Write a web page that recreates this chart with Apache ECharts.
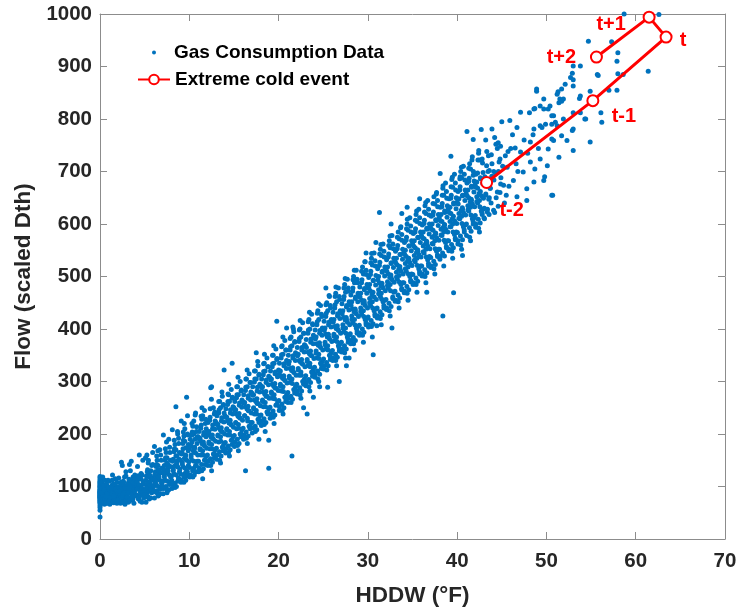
<!DOCTYPE html>
<html>
<head>
<meta charset="utf-8">
<script src="https://cdn.jsdelivr.net/npm/echarts@6/dist/echarts.min.js"></script>
<style>
html,body{margin:0;padding:0;background:#fff;}
#chart{width:740px;height:612px;}
</style>
</head>
<body>
<div id="chart"></div>
<script>
// ---------- data ----------
const xTickValues = [0, 10, 20, 30, 40, 50, 60, 70];
const yTickValues = [0, 100, 200, 300, 400, 500, 600, 700, 800, 900, 1000];

// Gas consumption points [HDDW, Flow]
const gasLow = [
[0,42],[0,55],[0,60],[0,64],[0,68],[0,70],[0,72],[0,74],[0,75],[0,77],[0,78],[0,79],[0,80],[0,81],[0,82],[0,83],[0,84],[0,85],[0,86],[0,87],[0,88],[0,89],[0,90],[0,91],[0,92],[0,94],[0,95],[0,97],[0,99],[0,100],[0,102],[0,104],[0,106],[0,108],[0,110],[0,113],[0,116],[0,119],
[0.05,66],[0.05,76],[0.05,98],[0.05,105],[0.1,88],[0.1,115],[0.1,71],
[0.2,78],[0.3,95],[0.4,70],[0.5,88],[0.6,104],[0.7,82],[0.8,73],[0.9,112],[0.3,118],[0.5,66],[0.6,92],[0.7,99],[0.8,86],[0.9,76],[0.2,108],[0.4,84],[0.6,71],[0.8,96],[0.1,101],[0.9,90],
[0.15,92],[0.25,74],[0.35,101],[0.45,80],[0.55,112],[0.65,87],[0.75,95],[0.85,68],[0.95,83],
[1.1,80],[1.2,95],[1.3,70],[1.4,104],[1.5,88],[1.6,76],[1.7,115],[1.8,92],[1.9,68],[1.2,84],[1.4,122],[1.5,74],[1.6,99],[1.8,82],[1.9,108],[1.1,66],[1.3,90],[1.7,78],[1.5,96],[1.0,110],
[1.05,98],[1.15,74],[1.25,89],[1.35,112],[1.45,80],[1.55,69],[1.65,93],[1.75,86],[1.85,100],[1.95,77],
[2.1,72],[2.2,98],[2.3,85],[2.4,146],[2.5,78],[2.6,110],[2.7,92],[2.8,66],[2.9,120],[2.2,88],[2.4,104],[2.5,140],[2.6,75],[2.8,95],[2.9,82],[2.1,116],[2.3,68],[2.7,101],[2.5,90],[2.9,128],
[2.05,92],[2.15,82],[2.35,108],[2.45,70],[2.55,96],[2.65,84],[2.75,118],[2.85,76],[2.95,90],
[3.1,80],[3.2,108],[3.3,72],[3.4,95],[3.5,148],[3.6,86],[3.7,118],[3.8,68],[3.9,100],[3.2,90],[3.4,130],[3.5,77],[3.6,104],[3.8,88],[3.9,122],[3.1,96],[3.3,142],[3.7,82],[3.5,112],[3.0,74],
[3.05,86],[3.15,70],[3.25,114],[3.45,92],[3.55,101],[3.65,75],[3.75,96],[3.85,110],[3.95,84],
[4.1,84],[4.2,112],[4.3,76],[4.4,160],[4.5,98],[4.6,125],[4.7,70],[4.8,105],[4.9,90],[4.2,138],[4.4,82],[4.5,116],[4.6,94],[4.8,150],[4.9,78],[4.1,102],[4.3,120],[4.7,88],[4.5,72],[4.0,108],
[5.1,86],[5.2,120],[5.3,98],[5.4,145],[5.5,76],[5.6,110],[5.7,130],[5.8,92],[5.9,165],[5.2,104],[5.4,80],[5.5,125],[5.6,95],[5.8,140],[5.9,112],[5.1,155],[5.3,88],[5.7,100],[5.5,118],[5.0,94],
[6.1,90],[6.2,128],[6.3,104],[6.4,150],[6.5,82],[6.6,118],[6.7,170],[6.8,98],[6.9,135],[6.2,110],[6.4,92],[6.5,140],[6.6,124],[6.8,160],[6.9,106],[6.1,176],[6.3,115],[6.7,86],[6.5,132],[6.0,100],
[7.1,96],[7.2,140],[7.3,112],[7.4,165],[7.5,88],[7.6,130],[7.7,190],[7.8,108],[7.9,150],[7.2,122],[7.4,100],[7.5,155],[7.6,136],[7.8,175],[7.9,118],[7.1,198],[7.3,128],[7.7,94],[7.5,145],[7.0,110],
[8.1,104],[8.2,152],[8.3,124],[8.4,180],[8.5,252],[8.6,140],[8.7,200],[8.8,115],[8.9,165],[8.2,132],[8.4,98],[8.5,170],[8.6,148],[8.8,192],[8.9,128],[8.1,208],[8.3,138],[8.7,110],[8.5,158],[8.0,120],
[9.1,112],[9.2,165],[9.3,138],[9.4,196],[9.5,125],[9.6,152],[9.7,270],[9.8,120],[9.9,180],[9.2,146],[9.4,108],[9.5,210],[9.6,160],[9.8,200],[9.9,140],[9.1,225],[9.3,172],[9.7,130],[9.5,186],[9.0,150],[9.8,235]
];

const gasMid = [
[10.1,122],[10.2,178],[10.3,150],[10.4,215],[10.5,135],[10.6,165],[10.7,240],[10.8,128],[10.9,195],[10.2,160],[10.4,118],[10.5,225],[10.6,175],[10.8,205],[10.9,148],[10.1,190],[10.3,185],[10.7,140],[10.5,200],[10.0,172],
[11.1,135],[11.2,192],[11.3,160],[11.4,228],[11.5,115],[11.6,180],[11.7,245],[11.8,142],[11.9,210],[11.2,172],[11.4,130],[11.5,235],[11.6,198],[11.8,220],[11.9,158],[11.1,205],[11.3,186],[11.7,150],[11.5,168],[11.0,195],
[12.1,148],[12.2,205],[12.3,172],[12.4,288],[12.5,130],[12.6,192],[12.7,250],[12.8,155],[12.9,225],[12.2,185],[12.4,140],[12.5,290],[12.6,210],[12.8,238],[12.9,170],[12.1,222],[12.3,198],[12.7,162],[12.5,180],[12.0,200],
[13.1,160],[13.2,218],[13.3,185],[13.4,262],[13.5,145],[13.6,205],[13.7,272],[13.8,168],[13.9,240],[13.2,198],[13.4,150],[13.5,250],[13.6,225],[13.8,255],[13.9,182],[13.1,235],[13.3,212],[13.7,175],[13.5,195],[13.0,222],[13.9,322],
[14.1,172],[14.2,232],[14.3,198],[14.4,275],[14.5,158],[14.6,220],[14.7,285],[14.8,180],[14.9,252],[14.2,210],[14.4,165],[14.5,262],[14.6,240],[14.8,268],[14.9,195],[14.1,248],[14.3,225],[14.7,188],[14.5,205],[14.0,235],[14.8,335],
[15.1,185],[15.2,246],[15.3,210],[15.4,290],[15.5,168],[15.6,232],[15.7,300],[15.8,195],[15.9,265],[15.2,222],[15.4,178],[15.5,275],[15.6,255],[15.8,282],[15.9,208],[15.1,262],[15.3,238],[15.7,200],[15.5,218],[15.0,250],
[16.1,198],[16.2,260],[16.3,130],[16.4,305],[16.5,182],[16.6,245],[16.7,315],[16.8,210],[16.9,280],[16.2,235],[16.4,192],[16.5,290],[16.6,268],[16.8,298],[16.9,222],[16.1,275],[16.3,252],[16.7,215],[16.5,230],[16.0,262],
[17.1,212],[17.2,275],[17.3,238],[17.4,320],[17.5,355],[17.6,258],[17.7,330],[17.8,222],[17.9,295],[17.2,250],[17.4,205],[17.5,305],[17.6,282],[17.8,312],[17.9,235],[17.1,290],[17.3,265],[17.7,228],[17.5,245],[17.0,278],[17.8,190],
[18.1,225],[18.2,290],[18.3,252],[18.4,335],[18.5,205],[18.6,272],[18.7,345],[18.8,238],[18.9,135],[18.2,265],[18.4,218],[18.5,320],[18.6,298],[18.8,328],[18.9,248],[18.1,305],[18.3,280],[18.7,242],[18.5,260],[18.0,292],[18.9,310],
[19.1,238],[19.2,305],[19.3,268],[19.4,350],[19.5,220],[19.6,288],[19.7,362],[19.8,415],[19.9,312],[19.2,280],[19.4,232],[19.5,335],[19.6,315],[19.8,342],[19.9,262],[19.1,320],[19.3,295],[19.7,255],[19.5,275],[19.0,308],[18.9,188],
[20.1,252],[20.2,320],[20.3,282],[20.4,368],[20.5,238],[20.6,305],[20.7,378],[20.8,262],[20.9,340],[20.2,295],[20.4,245],[20.5,352],[20.6,330],[20.8,360],[20.9,275],[20.1,335],[20.3,310],[20.7,270],[20.5,290],[20.0,322],[20.9,402],
[21.1,268],[21.2,338],[21.3,298],[21.4,385],[21.5,158],[21.6,320],[21.7,395],[21.8,278],[21.9,355],[21.2,310],[21.4,260],[21.5,368],[21.6,345],[21.8,375],[21.9,290],[21.1,350],[21.3,325],[21.7,285],[21.5,305],[21.0,338],[21.6,404],
[22.1,282],[22.2,352],[22.3,312],[22.4,400],[22.5,268],[22.6,335],[22.7,412],[22.8,295],[22.9,370],[22.2,325],[22.4,275],[22.5,385],[22.6,360],[22.8,392],[22.9,305],[22.1,365],[22.3,340],[22.7,300],[22.5,318],[22.0,352],[22.8,250],
[23.1,298],[23.2,238],[23.3,330],[23.4,418],[23.5,282],[23.6,350],[23.7,428],[23.8,310],[23.9,388],[23.2,342],[23.4,290],[23.5,400],[23.6,375],[23.8,410],[23.9,322],[23.1,380],[23.3,356],[23.7,318],[23.5,335],[23.0,368],[23.9,270],
[24.1,315],[24.2,385],[24.3,345],[24.4,435],[24.5,300],[24.6,368],[24.7,445],[24.8,325],[24.9,402],[24.2,358],[24.4,305],[24.5,418],[24.6,392],[24.8,428],[24.9,338],[24.1,398],[24.3,372],[24.7,335],[24.5,352],[24.0,385],[24.6,290]
];

const gasHigh = [
[25.1,330],[25.2,402],[25.3,362],[25.4,450],[25.5,289],[25.6,385],[25.7,462],[25.8,342],[25.9,418],[25.2,375],[25.4,322],[25.5,435],[25.6,408],[25.8,445],[25.9,355],[25.1,415],[25.3,390],[25.7,350],[25.5,368],[25.0,400],[25.3,478],
[26.1,345],[26.2,418],[26.3,378],[26.4,468],[26.5,330],[26.6,400],[26.7,478],[26.8,358],[26.9,435],[26.2,390],[26.4,340],[26.5,452],[26.6,425],[26.8,462],[26.9,372],[26.1,432],[26.3,405],[26.7,368],[26.5,385],[26.0,415],[26.8,300],
[27.1,362],[27.2,435],[27.3,395],[27.4,485],[27.5,345],[27.6,418],[27.7,495],[27.8,375],[27.9,452],[27.2,408],[27.4,355],[27.5,470],[27.6,442],[27.8,478],[27.9,388],[27.1,448],[27.3,422],[27.7,385],[27.5,402],[27.0,432],[27.6,330],
[28.1,378],[28.2,452],[28.3,412],[28.4,500],[28.5,360],[28.6,435],[28.7,512],[28.8,392],[28.9,468],[28.2,425],[28.4,372],[28.5,488],[28.6,458],[28.8,495],[28.9,405],[28.1,465],[28.3,438],[28.7,402],[28.5,418],[28.0,450],[27.9,345],
[29.1,392],[29.2,468],[29.3,428],[29.4,518],[29.5,375],[29.6,450],[29.7,528],[29.8,408],[29.9,485],[29.2,440],[29.4,388],[29.5,505],[29.6,475],[29.8,512],[29.9,420],[29.1,480],[29.3,455],[29.7,418],[29.5,435],[29.0,465],[29.8,545],
[30.1,408],[30.2,485],[30.3,445],[30.4,535],[30.5,385],[30.6,351],[30.7,545],[30.8,425],[30.9,502],[30.2,458],[30.4,405],[30.5,522],[30.6,492],[30.8,530],[30.9,438],[30.1,498],[30.3,472],[30.7,435],[30.5,452],[30.0,482],[30.9,565],
[31.1,425],[31.2,500],[31.3,622],[31.4,552],[31.5,408],[31.6,482],[31.7,562],[31.8,440],[31.9,518],[31.2,475],[31.4,420],[31.5,540],[31.6,508],[31.8,548],[31.9,455],[31.1,515],[31.3,488],[31.7,452],[31.5,468],[31.0,406],[31.4,462],
[32.1,440],[32.2,518],[32.3,478],[32.4,568],[32.5,425],[32.6,498],[32.7,402],[32.8,458],[32.9,535],[32.2,490],[32.4,435],[32.5,555],[32.6,525],[32.8,562],[32.9,470],[32.1,532],[32.3,505],[32.7,578],[32.5,485],[32.0,515],[32.6,600],
[33.1,455],[33.2,535],[33.3,495],[33.4,585],[33.5,440],[33.6,515],[33.7,595],[33.8,475],[33.9,552],[33.2,508],[33.4,452],[33.5,572],[33.6,542],[33.8,580],[33.9,488],[33.1,548],[33.3,522],[33.7,485],[33.5,502],[33.0,530],[33.8,620],
[34.1,472],[34.2,550],[34.3,510],[34.4,600],[34.5,455],[34.6,532],[34.7,612],[34.8,490],[34.9,568],[34.2,525],[34.4,468],[34.5,588],[34.6,558],[34.8,596],[34.9,505],[34.1,565],[34.3,538],[34.7,500],[34.5,518],[34.0,545],[34.4,632],
[35.1,488],[35.2,568],[35.3,528],[35.4,618],[35.5,470],[35.6,548],[35.7,628],[35.8,505],[35.9,585],[35.2,540],[35.4,485],[35.5,605],[35.6,575],[35.8,612],[35.9,520],[35.1,582],[35.3,555],[35.7,515],[35.5,535],[35.0,562],[35.8,648],
[36.1,505],[36.2,585],[36.3,545],[36.4,635],[36.5,488],[36.6,565],[36.7,645],[36.8,520],[36.9,600],[36.2,558],[36.4,500],[36.5,620],[36.6,592],[36.8,628],[36.9,538],[36.1,598],[36.3,572],[36.7,532],[36.5,552],[36.0,578],[36.6,470],
[37.1,520],[37.2,600],[37.3,562],[37.4,652],[37.5,505],[37.6,582],[37.7,660],[37.8,538],[37.9,618],[37.2,575],[37.4,515],[37.5,638],[37.6,608],[37.8,645],[37.9,552],[37.1,615],[37.3,588],[37.7,548],[37.5,568],[37.0,595],
[38.1,538],[38.2,618],[38.3,578],[38.4,425],[38.5,520],[38.6,598],[38.7,678],[38.8,555],[38.9,635],[38.2,590],[38.4,668],[38.5,655],[38.6,625],[38.8,662],[38.9,568],[38.1,632],[38.3,605],[38.7,565],[38.5,585],[38.0,612],[38.1,696],
[39.1,552],[39.2,632],[39.3,595],[39.4,685],[39.5,535],[39.6,469],[39.7,695],[39.8,570],[39.9,650],[39.2,605],[39.4,548],[39.5,670],[39.6,640],[39.8,678],[39.9,585],[39.1,648],[39.3,620],[39.7,580],[39.5,600],[39.0,628],[39.3,729]
];

const gasTop = [
[40.1,568],[40.2,648],[40.3,610],[40.4,700],[40.5,552],[40.6,628],[40.7,710],[40.8,585],[40.9,665],[40.2,620],[40.4,560],[40.5,688],[40.6,655],[40.8,695],[40.9,598],[40.1,662],[40.3,686],[40.7,595],[40.5,615],[40.0,642],[40.6,540],
[41.1,776],[41.2,665],[41.3,625],[41.4,715],[41.5,568],[41.6,645],[41.7,728],[41.8,761],[41.9,682],[41.2,635],[41.4,575],[41.5,705],[41.6,672],[41.8,600],[41.9,612],[41.1,678],[41.3,650],[41.7,610],[41.5,632],[41.0,658],[41.8,693],
[42.1,600],[42.2,680],[42.3,640],[42.4,735],[42.5,585],[42.6,662],[42.7,780],[42.8,618],[42.9,698],[42.2,652],[42.4,592],[42.5,722],[42.6,688],[42.8,724],[42.9,628],[42.1,695],[42.3,668],[42.7,625],[42.5,645],[42.0,675],
[43.1,690],[43.2,655],[43.4,628],[43.6,702],[43.7,668],[43.8,640],[43.9,715],[43.3,711],[43.5,730],[43.9,781],[43.2,760],[43.6,650],[43.0,612],
[44.1,700],[44.2,765],[44.3,696],[44.5,661],[44.5,744],[44.7,718],[44.8,724],[44.9,688],[44.2,622],[44.6,755],[44.8,660],
[45.0,795],[45.1,710],[45.2,674],[45.4,730],[45.5,655],[45.6,708],[45.7,738],[45.9,797],[45.3,640],[45.8,672],
[46.0,744],[46.3,683],[46.5,745],[46.7,784],[46.7,652],[46.8,700],[46.2,770],[46.6,715],
[47.1,813],[47.1,737],[47.4,699],[47.5,760],[47.8,667],[47.8,645],[47.9,735],
[48.1,812],[48.2,718],[48.2,756],[48.5,770],[48.6,781],[48.6,680],[48.6,819],[48.7,820],[48.7,705],[48.9,853],[48.9,857],
[49.1,744],[49.3,787],[49.3,724],[49.3,825],[49.5,784],[49.7,819],[49.7,683],[49.7,838],[49.8,690],[49.9,790],
[50.1,711],[50.2,819],[50.2,743],[50.4,825],[50.6,790],[50.6,762],[50.6,806],[50.6,655],[50.7,655],[50.8,759],[50.8,806],
[51.0,794],[51.2,847],[51.2,787],[51.3,852],[51.4,831],[51.4,727],[51.5,838],[51.7,768],[51.7,834],[51.7,857],[51.9,838],[51.9,800],
[52.1,866],[52.3,759],[52.7,879],[52.9,887],[52.9,778],[53.0,875],[53.0,740],[53.0,901],[53.0,863],[53.0,812],[53.0,781],
[53.7,839],[53.8,812],[53.8,901],[53.8,844],[54.3,800],[54.4,800],[54.7,948],[54.9,853],[54.9,756],
[55.7,885],[55.8,883],[56.1,812],[56.2,794],[57.0,855],[57.3,947],[57.9,855],[57.9,910],[58.0,926],[58.0,886],[58.6,885],[58.7,1000],[61.4,891],[62.6,999]
];

// dense core of the cloud
const gasCore = [
[0.12,70],[0.22,96],[0.33,83],[0.41,101],[0.52,77],[0.58,90],[0.66,68],[0.74,104],[0.83,86],[0.91,79],[0.18,88],[0.47,94],[0.69,81],[0.96,99],
[1.03,72],[1.14,93],[1.22,80],[1.31,101],[1.39,86],[1.48,71],[1.57,105],[1.63,84],[1.72,95],[1.81,74],[1.88,88],[1.27,97],[1.53,82],[1.94,91],
[2.04,75],[2.13,99],[2.21,86],[2.32,104],[2.38,79],[2.47,93],[2.56,70],[2.64,108],[2.72,88],[2.81,97],[2.89,73],[2.18,91],[2.52,84],[2.97,102],
[3.02,80],[3.12,104],[3.19,88],[3.28,73],[3.37,99],[3.44,112],[3.53,85],[3.61,94],[3.69,76],[3.78,107],[3.86,90],[3.23,96],[3.58,81],[3.93,114],
[4.03,82],[4.11,108],[4.19,95],[4.27,120],[4.36,78],[4.44,101],[4.52,89],[4.61,114],[4.68,97],[4.77,84],[4.86,109],[4.94,92],[4.33,104],[4.72,122],
[5.04,85],[5.13,112],[5.21,98],[5.29,128],[5.37,80],[5.46,106],[5.54,92],[5.62,120],[5.71,103],[5.79,88],[5.87,116],[5.95,100],[5.33,132],[5.66,95],
[6.03,92],[6.12,122],[6.2,106],[6.28,138],[6.37,88],[6.45,115],[6.53,100],[6.62,130],[6.7,112],[6.78,95],[6.87,126],[6.95,108],[6.33,142],[6.58,118],
[7.04,100],[7.13,133],[7.21,118],[7.29,150],[7.38,96],[7.46,126],[7.54,110],[7.63,142],[7.71,123],[7.79,104],[7.88,138],[7.96,120],[7.34,155],[7.59,129],
[8.03,112],[8.12,148],[8.2,130],[8.29,166],[8.37,106],[8.45,140],[8.54,122],[8.62,158],[8.71,137],[8.79,116],[8.87,152],[8.95,133],[8.33,172],[8.58,144],
[9.04,124],[9.12,162],[9.21,143],[9.29,182],[9.38,118],[9.46,154],[9.54,135],[9.63,174],[9.71,150],[9.79,128],[9.88,168],[9.96,147],[9.34,188],[9.58,158],
[10.03,136],[10.12,176],[10.2,156],[10.29,198],[10.37,130],[10.45,168],[10.54,148],[10.62,190],[10.71,164],[10.79,140],[10.87,182],[10.95,160],[10.33,204],[10.58,172],
[11.04,148],[11.12,190],[11.21,170],[11.29,211],[11.38,142],[11.46,181],[11.54,160],[11.63,203],[11.71,177],[11.79,152],[11.88,195],[11.96,173],[11.34,217],[11.58,185],
[12.03,160],[12.12,204],[12.2,182],[12.29,226],[12.37,153],[12.45,194],[12.54,172],[12.62,217],[12.71,190],[12.79,163],[12.87,209],[12.95,186],[12.33,232],[12.58,198],
[13.04,173],[13.12,218],[13.21,196],[13.29,240],[13.38,166],[13.46,208],[13.54,186],[13.63,231],[13.71,204],[13.79,177],[13.88,223],[13.96,200],[13.34,246],[13.58,212],
[14.03,184],[14.12,232],[14.2,208],[14.29,256],[14.37,177],[14.45,221],[14.54,198],[14.62,246],[14.71,217],[14.79,188],[14.87,238],[14.95,213],[14.33,262],[14.58,226],
[15.04,197],[15.12,245],[15.21,221],[15.29,269],[15.38,190],[15.46,234],[15.54,211],[15.63,259],[15.71,230],[15.79,201],[15.88,251],[15.96,226],[15.34,275],[15.58,239],
[16.03,211],[16.12,259],[16.2,235],[16.29,283],[16.37,204],[16.45,248],[16.54,225],[16.62,273],[16.71,244],[16.79,215],[16.87,265],[16.95,240],[16.33,289],[16.58,253],
[17.04,222],[17.12,274],[17.21,248],[17.29,299],[17.38,215],[17.46,262],[17.54,238],[17.63,289],[17.71,258],[17.79,227],[17.88,280],[17.96,254],[17.34,305],[17.58,267],
[18.03,236],[18.12,288],[18.2,262],[18.29,313],[18.37,229],[18.45,276],[18.54,252],[18.62,303],[18.71,272],[18.79,241],[18.87,294],[18.95,268],[18.33,319],[18.58,281],
[19.04,251],[19.12,303],[19.21,277],[19.29,328],[19.38,244],[19.46,291],[19.54,267],[19.63,318],[19.71,287],[19.79,256],[19.88,309],[19.96,283],[19.34,334],[19.58,296],
[20.03,264],[20.12,318],[20.2,291],[20.29,345],[20.37,257],[20.45,306],[20.54,281],[20.62,334],[20.71,302],[20.79,269],[20.87,325],[20.95,297],[20.33,351],[20.58,311],
[21.04,279],[21.12,333],[21.21,306],[21.29,360],[21.38,272],[21.46,321],[21.54,296],[21.63,349],[21.71,317],[21.79,284],[21.88,340],[21.96,312],[21.34,366],[21.58,326],
[22.03,295],[22.12,349],[22.2,322],[22.29,376],[22.37,288],[22.45,337],[22.54,312],[22.62,365],[22.71,333],[22.79,300],[22.87,356],[22.95,328],[22.33,382],[22.58,342],
[23.04,311],[23.12,365],[23.21,338],[23.29,392],[23.38,304],[23.46,353],[23.54,328],[23.63,381],[23.71,349],[23.79,316],[23.88,372],[23.96,344],[23.34,398],[23.58,358],
[24.03,327],[24.12,381],[24.2,354],[24.29,408],[24.37,320],[24.45,369],[24.54,344],[24.62,397],[24.71,365],[24.79,332],[24.87,388],[24.95,360],[24.33,414],[24.58,374],
[25.04,343],[25.12,397],[25.21,370],[25.29,424],[25.38,336],[25.46,385],[25.54,360],[25.63,413],[25.71,381],[25.79,348],[25.88,404],[25.96,376],[25.34,430],[25.58,390],
[26.03,359],[26.12,413],[26.2,386],[26.29,440],[26.37,352],[26.45,401],[26.54,376],[26.62,429],[26.71,397],[26.79,364],[26.87,420],[26.95,392],[26.33,446],[26.58,406],
[27.04,375],[27.12,429],[27.21,402],[27.29,456],[27.38,368],[27.46,417],[27.54,392],[27.63,445],[27.71,413],[27.79,380],[27.88,436],[27.96,408],[27.34,462],[27.58,422],
[28.03,391],[28.12,445],[28.2,418],[28.29,472],[28.37,384],[28.45,433],[28.54,408],[28.62,461],[28.71,429],[28.79,396],[28.87,452],[28.95,424],[28.33,478],[28.58,438],
[29.04,407],[29.12,461],[29.21,434],[29.29,488],[29.38,400],[29.46,449],[29.54,424],[29.63,477],[29.71,445],[29.79,412],[29.88,468],[29.96,440],[29.34,494],[29.58,454],
[30.03,423],[30.12,477],[30.2,450],[30.29,504],[30.37,416],[30.45,465],[30.54,440],[30.62,493],[30.71,461],[30.79,428],[30.87,484],[30.95,456],[30.33,510],[30.58,470],
[31.04,440],[31.12,494],[31.21,467],[31.29,521],[31.38,433],[31.46,482],[31.54,457],[31.63,510],[31.71,478],[31.79,445],[31.88,501],[31.96,473],[31.34,527],[31.58,487],
[32.03,456],[32.12,510],[32.2,483],[32.29,537],[32.37,449],[32.45,498],[32.54,473],[32.62,526],[32.71,494],[32.79,461],[32.87,517],[32.95,489],[32.33,543],[32.58,503],
[33.04,472],[33.12,526],[33.21,499],[33.29,553],[33.38,465],[33.46,514],[33.54,489],[33.63,542],[33.71,510],[33.79,477],[33.88,533],[33.96,505],[33.34,559],[33.58,519],
[34.03,488],[34.12,542],[34.2,515],[34.29,569],[34.37,481],[34.45,530],[34.54,505],[34.62,558],[34.71,526],[34.79,493],[34.87,549],[34.95,521],[34.33,575],[34.58,535],
[35.04,504],[35.12,558],[35.21,531],[35.29,585],[35.38,497],[35.46,546],[35.54,521],[35.63,574],[35.71,542],[35.79,509],[35.88,565],[35.96,537],[35.34,591],[35.58,551],
[36.03,520],[36.12,574],[36.2,547],[36.29,601],[36.37,513],[36.45,562],[36.54,537],[36.62,590],[36.71,558],[36.79,525],[36.87,581],[36.95,553],[36.33,607],[36.58,567],
[37.04,536],[37.12,590],[37.21,563],[37.29,617],[37.38,529],[37.46,578],[37.54,553],[37.63,606],[37.71,574],[37.79,541],[37.88,597],[37.96,569],[37.34,623],[37.58,583],
[38.03,552],[38.12,606],[38.2,579],[38.29,633],[38.37,545],[38.45,594],[38.54,569],[38.62,622],[38.71,590],[38.79,557],[38.87,613],[38.95,585],[38.33,639],[38.58,599],
[39.04,568],[39.12,622],[39.21,595],[39.29,649],[39.38,561],[39.46,610],[39.54,585],[39.63,638],[39.71,606],[39.79,573],[39.88,629],[39.96,601],[39.34,655],[39.58,615],
[40.03,584],[40.12,638],[40.2,611],[40.29,665],[40.37,577],[40.45,626],[40.54,601],[40.62,654],[40.71,622],[40.79,589],[40.87,645],[40.95,617],[40.33,671],[40.58,631],
[41.04,600],[41.12,654],[41.21,627],[41.29,681],[41.38,593],[41.46,642],[41.54,617],[41.63,670],[41.71,638],[41.79,605],[41.88,661],[41.96,633],[41.34,687],[41.58,647],
[42.03,616],[42.12,670],[42.2,643],[42.29,697],[42.37,609],[42.45,658],[42.54,633],[42.62,686],[42.71,654],[42.79,621],[42.87,677],[42.95,649],
[43.04,630],[43.21,657],[43.38,623],[43.54,647],[43.71,668],[43.88,691],[43.46,700],
[44.12,684],[44.37,650],[44.62,700],[44.87,676]
];

// outer parts of the band
const gasEdge = [
[5.15,70],[5.42,150],[5.68,78],[5.91,142],[5.25,160],
[6.1,78],[6.35,158],[6.6,84],[6.85,150],[6.48,168],
[7.08,86],[7.32,172],[7.57,92],[7.83,165],[7.45,185],
[8.06,96],[8.31,188],[8.56,100],[8.82,182],[8.68,205],
[9.07,108],[9.33,204],[9.6,112],[9.85,198],[9.44,220],
[10.05,118],[10.3,220],[10.56,122],[10.82,214],[10.66,236],
[11.06,128],[11.32,234],[11.58,134],[11.84,228],[11.42,250],
[12.08,140],[12.34,248],[12.6,146],[12.86,242],[12.48,266],
[13.05,152],[13.3,262],[13.56,158],[13.82,256],[13.66,280],
[14.07,164],[14.33,276],[14.58,170],[14.84,270],[14.42,295],
[15.06,176],[15.32,290],[15.58,182],[15.83,284],[15.46,308],
[16.08,190],[16.34,305],[16.6,196],[16.86,298],[16.48,322],
[17.05,202],[17.3,320],[17.56,208],[17.82,314],[17.66,338],
[18.07,216],[18.33,334],[18.58,222],[18.84,328],[18.42,352],
[19.06,230],[19.32,350],[19.58,236],[19.83,344],[19.46,368],
[20.08,245],[20.34,366],[20.6,250],[20.86,360],[20.48,385],
[21.05,260],[21.3,382],[21.56,266],[21.82,376],[21.66,400],
[22.07,276],[22.33,398],[22.58,282],[22.84,392],[22.42,416],
[23.06,292],[23.32,414],[23.58,298],[23.83,408],[23.46,432],
[24.08,308],[24.34,430],[24.6,314],[24.86,424],[24.48,448],
[25.05,324],[25.3,446],[25.56,330],[25.82,440],[25.66,464],
[26.07,340],[26.33,462],[26.58,346],[26.84,456],[26.42,480],
[27.06,356],[27.32,478],[27.58,362],[27.83,472],[27.46,496],
[28.08,372],[28.34,494],[28.6,378],[28.86,488],[28.48,512],
[29.05,388],[29.3,510],[29.56,394],[29.82,504],[29.66,528],
[30.07,404],[30.33,526],[30.58,410],[30.84,520],[30.42,544],
[31.06,421],[31.32,543],[31.58,427],[31.83,537],[31.46,561],
[32.08,437],[32.34,559],[32.6,443],[32.86,553],[32.48,577],
[33.05,453],[33.3,575],[33.56,459],[33.82,569],[33.66,593],
[34.07,469],[34.33,591],[34.58,475],[34.84,585],[34.42,609],
[35.06,485],[35.32,607],[35.58,491],[35.83,601],[35.46,625],
[36.08,501],[36.34,623],[36.6,507],[36.86,617],[36.48,641],
[37.05,517],[37.3,639],[37.56,523],[37.82,633],[37.66,657],
[38.07,533],[38.33,655],[38.58,539],[38.84,649],[38.42,673],
[39.06,549],[39.32,671],[39.58,555],[39.83,665],[39.46,689],
[40.08,562],[40.34,690],[40.6,570],[40.86,684],[40.48,708],
[41.05,578],[41.3,706],[41.56,586],[41.82,700],[41.66,722],
[42.07,594],[42.33,722],[42.58,602],[42.84,716],[42.42,740],
[43.06,610],[43.32,738],[43.58,618],[43.83,732],
[44.08,626],[44.34,752],[44.6,634],[44.86,748]
];

// Extreme cold event sequence
const eventHddw = [43.3, 55.2, 63.4, 61.5, 55.6];
const eventFlow = [679, 835, 956, 994, 918];
const eventLabels = ['t-2', 't-1', 't', 't+1', 't+2'];

// ---------- styling ----------
const labelOffsets = [[25, 28], [31, 16], [17, 3], [-38, 7], [-35, 0]];
const AX = '#262626';
const AXLINE = '#8c8c8c';
const FONT = '"Liberation Sans", Arial, Helvetica, sans-serif';

const gasData = gasLow.concat(gasMid, gasHigh, gasTop, gasCore, gasEdge);
const eventData = eventHddw.map((x, i) => ({
  value: [x, eventFlow[i]],
  label: { show: true, formatter: eventLabels[i], offset: labelOffsets[i], position: 'inside' }
}));

const chart = echarts.init(document.getElementById('chart'), null, { renderer: 'canvas' });

const baseAxis = {
  axisLine: { show: true, onZero: false, lineStyle: { color: AXLINE, width: 1 } },
  axisTick: { show: true, inside: true, length: 7, lineStyle: { color: AXLINE, width: 1 } },
  splitLine: { show: false },
  minorTick: { show: false }
};

const option = {
  animation: false,
  backgroundColor: '#fff',
  textStyle: { fontFamily: FONT },
  grid: { left: 100, right: 15, top: 14, bottom: 69, containLabel: false },
  legend: [
    {
      data: [{ name: 'Gas Consumption Data', icon: 'circle' }],
      left: 152, top: 43,
      itemWidth: 4, itemHeight: 4,
      itemGap: 0, padding: 0,
      textStyle: { fontFamily: FONT, fontWeight: 'bold', fontSize: 19, color: '#000', padding: [0, 0, 0, 13] },
      selectedMode: false
    },
    {
      data: ['Extreme cold event'],
      left: 137, top: 70,
      itemWidth: 32, itemHeight: 12,
      itemGap: 0, padding: 0,
      textStyle: { fontFamily: FONT, fontWeight: 'bold', fontSize: 19, color: '#000' },
      selectedMode: false
    }
  ],
  xAxis: [
    Object.assign({}, baseAxis, {
      type: 'value', position: 'bottom',
      min: xTickValues[0], max: xTickValues[xTickValues.length - 1], interval: xTickValues[1] - xTickValues[0],
      name: 'HDDW (°F)', nameLocation: 'middle', nameGap: 45,
      nameTextStyle: { fontFamily: FONT, fontWeight: 'bold', fontSize: 22.5, color: AX },
      axisLabel: { show: true, margin: 12, fontFamily: FONT, fontWeight: 'bold', fontSize: 20.5, color: AX }
    }),
    Object.assign({}, baseAxis, {
      type: 'value', position: 'top',
      min: xTickValues[0], max: xTickValues[xTickValues.length - 1], interval: xTickValues[1] - xTickValues[0],
      axisLabel: { show: false }
    })
  ],
  yAxis: [
    Object.assign({}, baseAxis, {
      type: 'value', position: 'left',
      min: yTickValues[0], max: yTickValues[yTickValues.length - 1], interval: yTickValues[1] - yTickValues[0],
      name: 'Flow (scaled Dth)', nameLocation: 'middle', nameGap: 51,
      nameTextStyle: { fontFamily: FONT, fontWeight: 'bold', fontSize: 22.5, color: AX },
      axisLabel: { show: true, margin: 8, fontFamily: FONT, fontWeight: 'bold', fontSize: 20.5, color: AX,
        formatter: v => String(v) }
    }),
    Object.assign({}, baseAxis, {
      type: 'value', position: 'right',
      min: yTickValues[0], max: yTickValues[yTickValues.length - 1], interval: yTickValues[1] - yTickValues[0],
      axisLabel: { show: false }
    })
  ],
  series: [
    {
      name: 'Gas Consumption Data',
      type: 'scatter',
      xAxisIndex: 0, yAxisIndex: 0,
      data: gasData,
      symbol: 'circle',
      symbolSize: 5,
      clip: false,
      large: false,
      itemStyle: { color: '#0072BD', opacity: 1 },
      emphasis: { disabled: true },
      z: 2
    },
    {
      name: 'Extreme cold event',
      type: 'line',
      xAxisIndex: 0, yAxisIndex: 0,
      data: eventData,
      symbol: 'emptyCircle',
      symbolSize: 11,
      showAllSymbol: true,
      clip: false,
      lineStyle: { color: '#FF0000', width: 3 },
      itemStyle: { color: '#FF0000', borderColor: '#FF0000', borderWidth: 2.5 },
      label: { color: '#FF0000', fontFamily: FONT, fontWeight: 'bold', fontSize: 20 },
      emphasis: { disabled: true },
      z: 5
    }
  ]
};
chart.setOption(option);
</script>
</body>
</html>
